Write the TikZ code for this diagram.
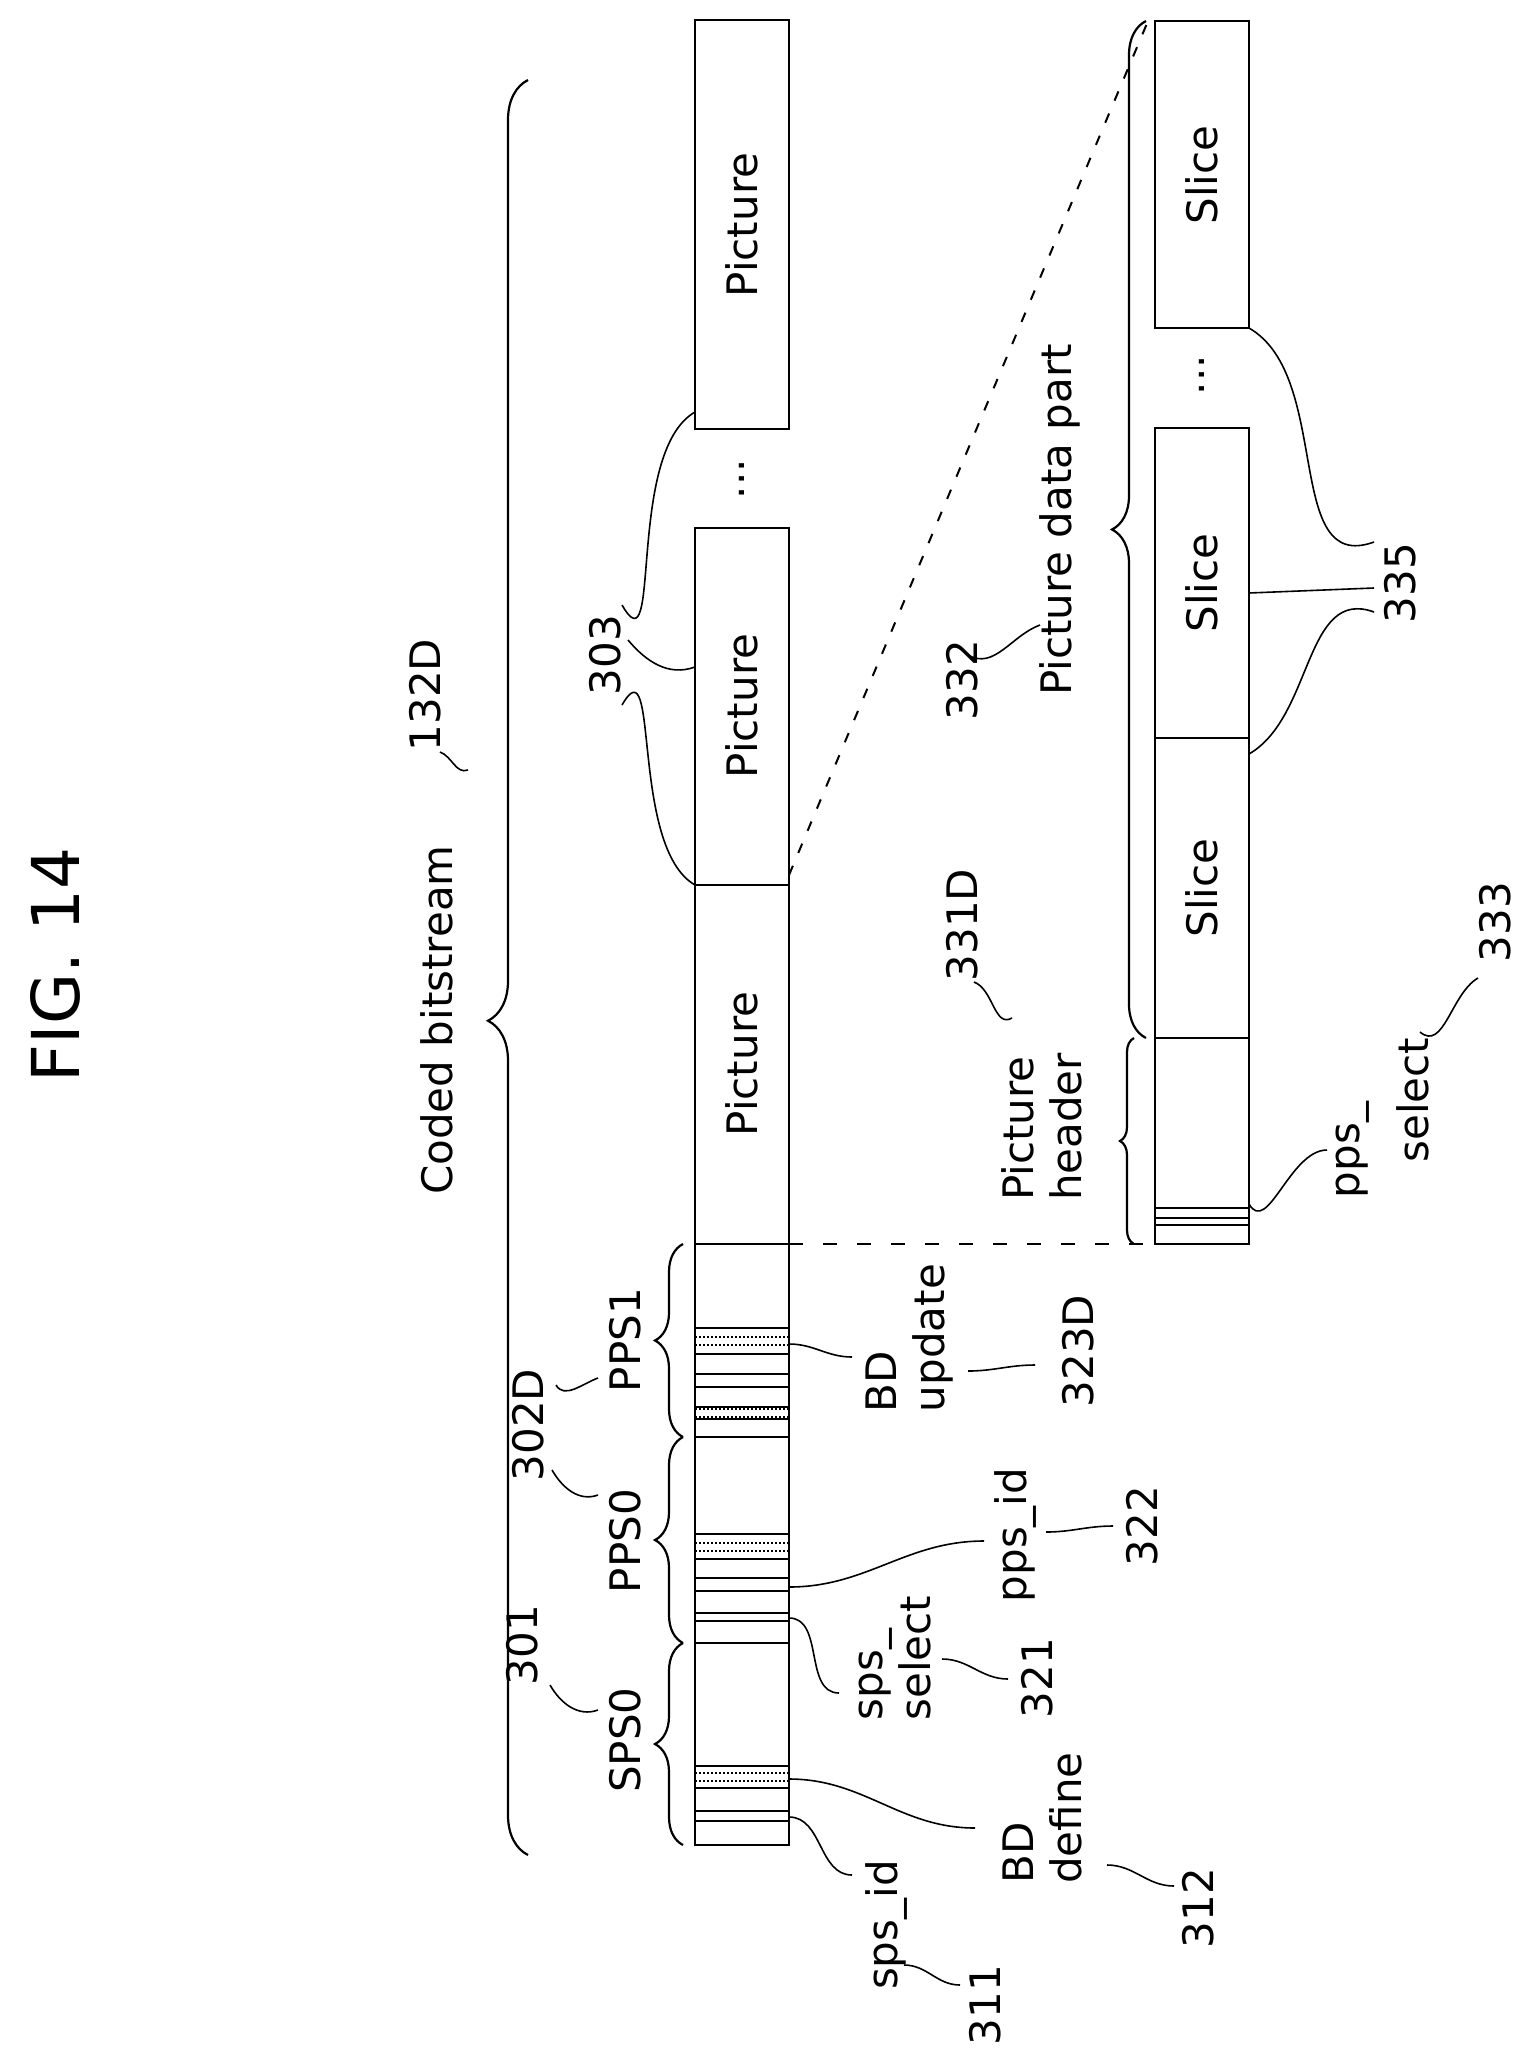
\documentclass[tikz,border=0pt]{standalone}
\usepackage{fontspec}
\setmainfont{DejaVu Sans}
\usetikzlibrary{decorations.pathreplacing}
\begin{document}
\begin{tikzpicture}[x=1pt,y=-1pt,
  box/.style={draw,line width=2.5pt},
  ln/.style={line width=2pt},
  dl/.style={line width=2pt,dotted},
  lead/.style={line width=1.6pt},
  brc/.style={decorate,decoration={brace,amplitude=#1},line width=2.2pt},
  lab/.style={rotate=90,font=\fontsize{42}{48}\selectfont,inner sep=0pt},
  labl/.style={lab,align=left}]
\useasboundingbox (0,0) rectangle (1525,2056);
\node[rotate=90,font=\fontsize{66}{70}\selectfont] (fig) at (55,965) {FIG. 14};
% big brace
\draw[brc=40pt,decoration={aspect=0.47}] (528,1855) -- (528,80);
\node[lab] (cb) at (437,1020) {Coded bitstream};
\node[lab] (l132) at (425,695) {132D};
\draw[lead] (468,770) to[out=200,in=-20] (440,752);
% bitstream column
\draw[box] (695,20) rectangle (789,429);
\draw[box] (695,528) rectangle (789,1244);
\draw[box] (695,885) -- (789,885);
\draw[box] (695,1244) rectangle (789,1845);
\draw[ln] (695,1437) -- (789,1437);
\draw[ln] (695,1643) -- (789,1643);
\foreach \y in {1328,1354,1374,1387,1407,1419,1534,1559,1578,1591,1613,1621,1766,1788,1811,1821}
  \draw[ln] (695,\y) -- (789,\y);
\foreach \a/\b in {1328/1354,1407/1419,1534/1559,1766/1788}{
  \draw[dl] (695,{(\a+\b)/2-4}) -- (789,{(\a+\b)/2-4});
  \draw[dl] (695,{(\a+\b)/2+4}) -- (789,{(\a+\b)/2+4});}
\node[lab] (p3) at (742,225) {Picture};
\node[lab] (p2) at (742,706) {Picture};
\node[lab] (p1) at (742,1064) {Picture};
\node[lab] (dots1) at (742,479) {...};
% small braces
\draw[brc=28pt] (683,1845) -- (683,1643);
\draw[brc=28pt] (683,1643) -- (683,1437);
\draw[brc=28pt] (683,1437) -- (683,1244);
\node[lab] (sps0) at (625,1740) {SPS0};
\node[lab] (pps0) at (625,1541) {PPS0};
\node[lab] (pps1) at (625,1340) {PPS1};
\node[lab] (l301) at (522,1645) {301};
\node[lab] (l302) at (528,1425) {302D};
\draw[lead] (598,1710) to[out=200,in=-60] (550,1685);
\draw[lead] (598,1495) to[out=200,in=-60] (552,1470);
\draw[lead] (598,1378) to[out=200,in=-60] (556,1385);
% 303
\node[lab] (l303) at (605,655) {303};
\draw[lead] (695,412) to[out=210,in=-60] (622,605);
\draw[lead] (695,667) to[out=200,in=-50] (628,640);
\draw[lead] (695,885) to[out=150,in=60] (622,705);
% slice column
\draw[box] (1155,21) rectangle (1249,328);
\draw[box] (1155,428) rectangle (1249,1244);
\foreach \y in {738,1038,1208,1218,1225} \draw[ln] (1155,\y) -- (1249,\y);
\node[lab] (s3) at (1202,175) {Slice};
\node[lab] (s2) at (1202,583) {Slice};
\node[lab] (s1) at (1202,888) {Slice};
\node[lab] (dots2) at (1202,375) {...};
\draw[line width=2pt,dash pattern=on 10pt off 14pt] (789,875) -- (1148,21);
\draw[line width=2.5pt,dash pattern=on 14pt off 20pt] (789,1244) -- (1155,1244);
\draw[brc=34pt] (1146,1038) -- (1146,21);
\draw[brc=14pt] (1134,1244) -- (1134,1038);
\node[lab] (pdp) at (1060,520) {Picture data part};
\node[lab] (l332) at (962,680) {332};
\draw[lead] (968,655) to[out=-30,in=200] (1040,625);
\node[lab] (l331) at (962,925) {331D};
\node[labl] (ph) at (1042,1127) {Picture\\header};
\draw[lead] (974,982) to[out=-20,in=210] (1012,1018);
\node[lab] (pps_) at (1353,1150) {pps\_};
\node[lab] (sel) at (1413,1100) {select};
\draw[lead] (1249,1204) to[out=-60,in=180] (1327,1150);
\node[lab] (l333) at (1495,922) {333};
\draw[lead] (1420,1032) to[out=-40,in=210] (1478,978);
\node[lab] (l335) at (1400,583) {335};
\draw[lead] (1249,328) to[out=-30,in=200] (1374,542);
\draw[lead] (1249,593) -- (1374,588);
\draw[lead] (1249,754) to[out=30,in=160] (1374,612);
% lower labels
\node[lab] (spsid) at (886,1925) {sps\_id};
\node[lab] (l311) at (985,2005) {311};
\node[labl] (bdd) at (1042,1818) {BD\\define};
\node[lab] (l312) at (1198,1908) {312};
\node[labl] (spss) at (895,1658) {sps\_\\select};
\node[lab] (l321) at (1037,1678) {321};
\node[lab] (ppsid) at (1015,1535) {pps\_id};
\node[lab] (l322) at (1142,1526) {322};
\node[labl] (bdu) at (910,1338) {BD\\update};
\node[lab] (l323) at (1078,1351) {323D};
\draw[lead] (789,1817) to[out=0,in=180] (852,1875);
\draw[lead] (789,1779) to[out=0,in=180] (975,1828);
\draw[lead] (904,1965) to[out=0,in=180] (960,1985);
\draw[lead] (1107,1865) to[out=0,in=180] (1174,1886);
\draw[lead] (789,1618) to[out=0,in=180] (839,1693);
\draw[lead] (942,1659) to[out=0,in=180] (1008,1679);
\draw[lead] (789,1587) to[out=0,in=180] (984,1541);
\draw[lead] (1046,1532) to[out=0,in=180] (1113,1526);
\draw[lead] (789,1344) to[out=0,in=180] (852,1357);
\draw[lead] (968,1371) to[out=0,in=180] (1035,1365);
\end{tikzpicture}
\end{document}
